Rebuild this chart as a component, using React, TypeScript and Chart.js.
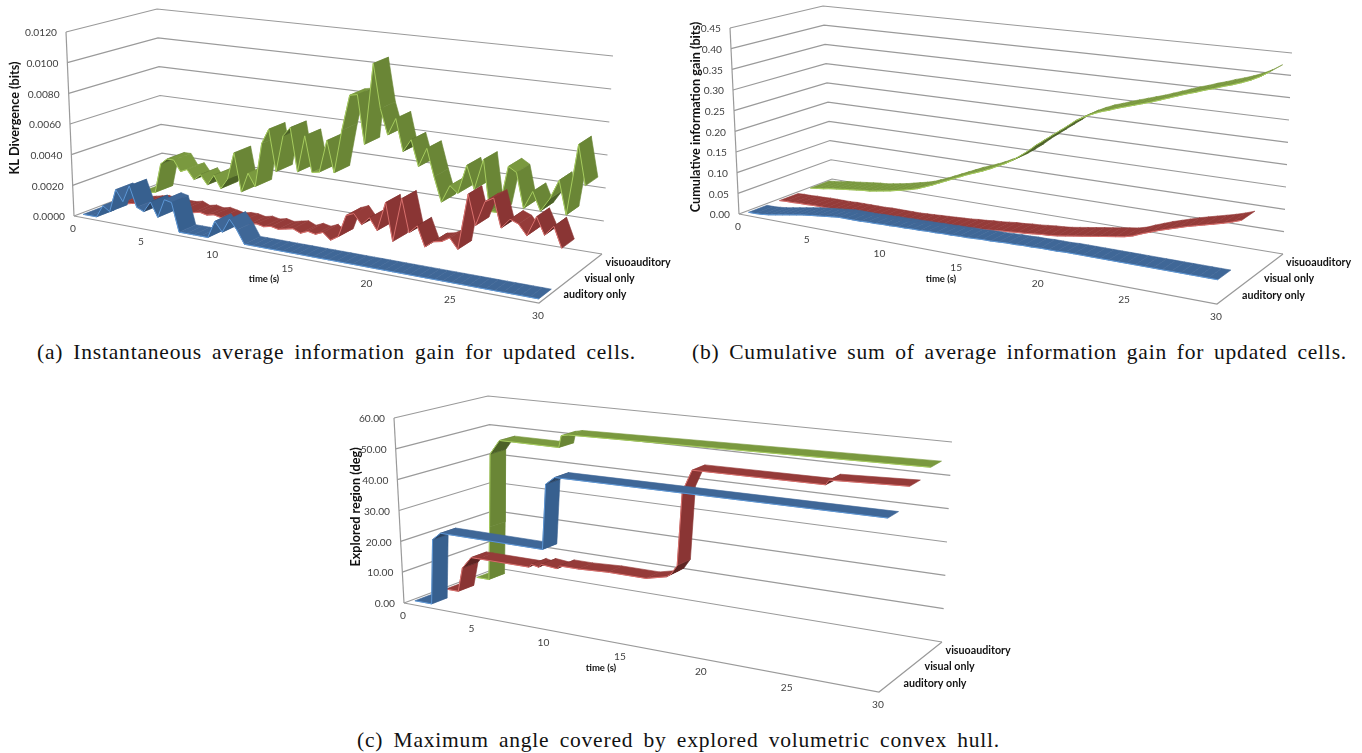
import React, { useEffect, useRef } from "react";
import { Chart, registerables } from "chart.js";

Chart.register(...registerables);

// ---------- data ----------
const seriesNames = ["auditory only", "visual only", "visuoauditory"];
const timeTicks = [0, 5, 10, 15, 20, 25, 30];

const sampleTimes = [
  0.25, 0.75, 1.25, 1.75, 2.25, 2.75, 3.25, 3.75, 4.25, 4.75, 5.25, 5.75, 6.25, 6.75, 7.25,
  7.75, 8.25, 8.75, 9.25, 9.75, 10.25, 10.75, 11.25, 11.75, 12.25, 12.75, 13.25, 13.75, 14.25, 14.75,
  15.25, 15.75, 16.25, 16.75, 17.25, 17.75, 18.25, 18.75, 19.25, 19.75, 20.25, 20.75, 21.25, 21.75, 22.25,
  22.75, 23.25, 23.75, 24.25, 24.75, 25.25, 25.75, 26.25, 26.75, 27.25, 27.75, 28.25, 28.75, 29.25, 29.75,
];

const klTicks = ["0.0000", "0.0020", "0.0040", "0.0060", "0.0080", "0.0100", "0.0120"];
const klAuditory = [
  0, 0, 0, 0.0008, 0.0005, 0.002, 0.0013, 0.0024, 0.0011, 0.0009, 0.0016, 0.0007, 0.0019, 0.0018, 0,
  0, 0, 0, 0, 0.0011, 0.0005, 0.0014, 0.0008, 0, 0, 0, 0, 0, 0, 0,
  0, 0, 0, 0, 0, 0, 0, 0, 0, 0, 0, 0, 0, 0, 0,
  0, 0, 0, 0, 0, 0, 0, 0, 0, 0, 0, 0, 0, 0, 0,
];
const klVisual = [
  0, 0, 0.0001, 0.0002, 0.0003, 0.0004, 0.0005, 0.0004, 0.0005, 0.0004, 0.0004, 0.0005, 0.0003, 0.0004, 0.0003,
  0.0004, 0.0003, 0.0002, 0.0003, 0.0003, 0.0002, 0.0003, 0.0002, 0.0003, 0.0002, 0.0003, 0.0004, 0.0002, 0.0004, 0.0003,
  0.0005, 0.0001, 0.0004, 0.0018, 0.002, 0.0014, 0.0019, 0.0012, 0.003, 0.0007, 0.0034, 0.0014, 0.0019, 0.0007, 0.0011,
  0.0012, 0.0015, 0.0009, 0.0043, 0.0025, 0.004, 0.0043, 0.0026, 0.0032, 0.003, 0.0024, 0.0036, 0.0026, 0.0032, 0.002,
];
const klVisuoauditory = [
  0, 0, 0.0001, 0.0021, 0.0025, 0.0025, 0.0018, 0.002, 0.0014, 0.0018, 0.0012, 0.0019, 0.0011, 0.0018, 0.0036,
  0.0011, 0.0024, 0.0016, 0.0045, 0.0055, 0.0028, 0.0052, 0.0058, 0.003, 0.0054, 0.0031, 0.0032, 0.0053, 0.0033, 0.0061,
  0.0084, 0.0085, 0.0054, 0.0106, 0.0078, 0.0062, 0.0073, 0.0053, 0.0061, 0.0045, 0.0057, 0.004, 0.0025, 0.0036, 0.0032,
  0.005, 0.0036, 0.0055, 0.0024, 0.0024, 0.0053, 0.005, 0.0029, 0.004, 0.0029, 0.0037, 0.0049, 0.0029, 0.0072, 0.0048,
];

const gainTicks = ["0.00", "0.05", "0.10", "0.15", "0.20", "0.25", "0.30", "0.35", "0.40", "0.45"];
const gainAuditory = [
  0, 0, 0.001, 0.003, 0.006, 0.009, 0.012, 0.015, 0.018, 0.02, 0.022, 0.024, 0.026, 0.028, 0.028,
  0.028, 0.028, 0.029, 0.029, 0.03, 0.03, 0.031, 0.031, 0.032, 0.032, 0.033, 0.033, 0.034, 0.034, 0.035,
  0.035, 0.036, 0.037, 0.037, 0.038, 0.039, 0.039, 0.04, 0.04, 0.041, 0.041, 0.041, 0.042, 0.042, 0.042,
  0.042, 0.042, 0.042, 0.042, 0.042, 0.042, 0.042, 0.042, 0.042, 0.042, 0.042, 0.042, 0.042, 0.042, 0.042,
];
const gainVisual = [
  0, 0.001, 0.001, 0.002, 0.002, 0.003, 0.003, 0.003, 0.003, 0.004, 0.004, 0.004, 0.004, 0.004, 0.005,
  0.005, 0.005, 0.005, 0.005, 0.006, 0.007, 0.008, 0.009, 0.01, 0.011, 0.012, 0.014, 0.015, 0.017, 0.018,
  0.02, 0.022, 0.023, 0.025, 0.026, 0.028, 0.03, 0.031, 0.033, 0.036, 0.039, 0.042, 0.045, 0.048, 0.051,
  0.054, 0.057, 0.062, 0.07, 0.077, 0.084, 0.09, 0.096, 0.102, 0.107, 0.112, 0.117, 0.122, 0.128, 0.135,
];
const gainVisuoauditory = [
  0.002, 0.004, 0.006, 0.009, 0.011, 0.013, 0.015, 0.017, 0.019, 0.02, 0.023, 0.026, 0.029, 0.033, 0.037,
  0.041, 0.046, 0.053, 0.06, 0.068, 0.076, 0.084, 0.092, 0.1, 0.107, 0.114, 0.122, 0.131, 0.14, 0.151,
  0.164, 0.178, 0.194, 0.208, 0.222, 0.236, 0.25, 0.265, 0.276, 0.285, 0.293, 0.299, 0.306, 0.312, 0.318,
  0.324, 0.33, 0.337, 0.344, 0.351, 0.358, 0.364, 0.371, 0.377, 0.384, 0.39, 0.397, 0.405, 0.415, 0.428,
];

const angleTicks = ["0.00", "10.00", "20.00", "30.00", "40.00", "50.00", "60.00"];
const angleAuditoryT = [0.25, 1.5, 1.8, 2.4, 9.5, 9.8, 10.4, 29.75];
const angleAuditory = [0, 0, 21, 23.5, 23.5, 44, 46.5, 47.5];
const angleVisualT = [0.25, 1.2, 1.6, 2.3, 2.8, 6.5, 6.7, 7.2, 7.4, 8.5, 8.7, 10, 12, 14.5, 15.8, 16.1, 16.5, 16.8, 17.4, 25.2, 25.4, 29.75];
const angleVisual = [0, 0, 8, 12, 12, 12, 13, 12.5, 13.5, 13, 14, 14, 14.5, 14.5, 16, 17, 20, 43, 50, 50.5, 52, 53];
const angleVisuoT = [0.25, 1.2, 1.45, 1.75, 2.5, 6.8, 7.0, 7.5, 29.75];
const angleVisuo = [0, 0, 18, 43, 48, 48, 52, 52.5, 55];

// ---------- page geometry of each perspective box ----------
type Pt = [number, number];
const boxA = { fl0: [74, 216] as Pt, fl1: [66, 32] as Pt, bl0: [163, 182] as Pt, bl1: [157, 9] as Pt, fr0: [539, 303] as Pt, fr1: [551, 92] as Pt, br0: [602, 254] as Pt, br1: [613, 56] as Pt, k: 1.17, half: 0.1 };
const boxB = { fl0: [739, 214] as Pt, fl1: [730, 28] as Pt, bl0: [832, 179] as Pt, bl1: [823, 6] as Pt, fr0: [1217, 304] as Pt, fr1: [1228, 88] as Pt, br0: [1283, 254] as Pt, br1: [1292, 53] as Pt, k: 1.19, half: 0.1 };
const boxC = { fl0: [404, 603] as Pt, fl1: [394, 418] as Pt, bl0: [497, 568] as Pt, bl1: [488, 396] as Pt, fr0: [879, 692] as Pt, fr1: [890, 477] as Pt, br0: [942, 642] as Pt, br1: [952, 442] as Pt, k: 1.19, half: 0.085 };
type Box = typeof boxA;

const TMAX = 30;
const lerp = (a: number, b: number, s: number) => a + (b - a) * s;
function project(box: Box, t: number, w: number, h: number) {
  const u = t / TMAX;
  const f = u / (box.k - (box.k - 1) * u);
  const at = (i: 0 | 1) => {
    const f0 = lerp(lerp(box.fl0[i], box.fr0[i], f), lerp(box.bl0[i], box.br0[i], f), w);
    const f1 = lerp(lerp(box.fl1[i], box.fr1[i], f), lerp(box.bl1[i], box.br1[i], f), w);
    return lerp(f0, f1, h);
  };
  return { x: at(0), y: at(1) };
}

const palettes = [
  { top: "#3F6797", mid: "#37608F", dark: "#2A4465", edge: "#5D97D6" },
  { top: "#953B39", mid: "#8A3534", dark: "#5E2422", edge: "#D9706D" },
  { top: "#7A993F", mid: "#6A8636", dark: "#4C6227", edge: "#A6CC5E" },
];
const slotCenters = [1 / 6, 1 / 2, 5 / 6];

function gridSets(box: Box, tickCount: number) {
  const sets: any[] = [];
  const line = (data: { x: number; y: number }[]) =>
    sets.push({ data, showLine: true, pointRadius: 0, borderColor: "#9a9a9a", borderWidth: 1.2, fill: false, clip: false });
  for (let i = 0; i < tickCount; i++) {
    const h = i / (tickCount - 1);
    line([project(box, 0, 0, h), project(box, 0, 1, h), project(box, TMAX, 1, h)]);
  }
  line([project(box, 0, 0, 0), project(box, 0, 0, 1)]);
  line([project(box, 0, 0, 0), project(box, TMAX, 0, 0), project(box, TMAX, 1, 0)]);
  return sets;
}

function ribbonSets(box: Box, name: string, slot: number, times: number[], values: number[], maxV: number) {
  const pal = palettes[slot];
  const w0 = slotCenters[slot] - box.half;
  const w1 = slotCenters[slot] + box.half;
  const sets: any[] = [];
  for (let i = 0; i < times.length - 1; i++) {
    const a = project(box, times[i], w0, values[i] / maxV);
    const b = project(box, times[i + 1], w0, values[i + 1] / maxV);
    const c = project(box, times[i + 1], w1, values[i + 1] / maxV);
    const d = project(box, times[i], w1, values[i] / maxV);
    const dx = b.x - a.x;
    const dy = b.y - a.y;
    const cross = dx * (d.y - a.y) - dy * (d.x - a.x);
    let color = pal.top;
    if (cross > 0) color = Math.abs(dy) > 1.6 * Math.abs(dx) ? pal.mid : pal.dark;
    else if (dy > 2 * Math.abs(dx)) color = pal.mid;
    sets.push({
      label: name,
      data: [a, b, c, d, a],
      showLine: true,
      pointRadius: 0,
      fill: "shape",
      backgroundColor: color,
      borderColor: color,
      borderWidth: 0.6,
      clip: false,
    });
  }
  sets.push({
    label: name,
    data: times.map((t, i) => project(box, t, w0, values[i] / maxV)),
    showLine: true,
    pointRadius: 0,
    borderColor: pal.edge,
    borderWidth: 1,
    fill: false,
    clip: false,
  });
  return sets;
}

const labelPlugin = {
  id: "boxLabels",
  afterDraw(chart: any) {
    const o = chart.options.plugins.boxLabels;
    const box: Box = o.box;
    const ctx = chart.ctx;
    const sx = chart.scales.x;
    const sy = chart.scales.y;
    const px = (p: { x: number; y: number }) => ({ x: sx.getPixelForValue(p.x), y: sy.getPixelForValue(p.y) });
    ctx.save();
    ctx.textBaseline = "middle";
    ctx.fillStyle = "#404040";
    ctx.font = "10.2px Lato";
    ctx.textAlign = "right";
    o.ticks.forEach((tick: string, i: number) => {
      const p = px(project(box, 0, 0, i / (o.ticks.length - 1)));
      ctx.fillText(tick, p.x - 9, p.y + 1);
    });
    ctx.textAlign = "center";
    timeTicks.forEach((t) => {
      const p = px(project(box, t, 0, 0));
      ctx.fillText(String(t), p.x - 1, p.y + 13);
    });
    ctx.fillStyle = "#111";
    ctx.font = "bold 10.7px Lato";
    ctx.textAlign = "left";
    seriesNames.forEach((n, i) => {
      const p = px(project(box, TMAX, slotCenters[i], 0));
      ctx.fillText(n, p.x + 14, p.y);
    });
    ctx.textAlign = "center";
    ctx.font = "bold 9.5px Lato";
    const tl = px({ x: o.timeLabel[0], y: o.timeLabel[1] });
    ctx.fillText("time (s)", tl.x, tl.y);
    ctx.font = "bold 12.7px Lato";
    const yl = px({ x: o.yLabel[0], y: o.yLabel[1] });
    ctx.translate(yl.x, yl.y);
    ctx.rotate(-Math.PI / 2);
    ctx.fillText(o.yTitle, 0, 0);
    ctx.restore();
  },
};

function Panel(props: {
  left: number; top: number; width: number; height: number; box: Box; ticks: string[]; yTitle: string;
  timeLabel: number[]; yLabel: number[]; maxV: number; series: [number[], number[]][];
}) {
  const ref = useRef<HTMLCanvasElement>(null);
  useEffect(() => {
    const { left, top, width, height, box, ticks, yTitle, timeLabel, yLabel, maxV, series } = props;
    const back: any[] = [...gridSets(box, ticks.length)];
    for (let slot = 2; slot >= 0; slot--) {
      back.push(...ribbonSets(box, seriesNames[slot], slot, series[slot][0], series[slot][1], maxV));
    }
    const chart = new Chart(ref.current!, {
      type: "scatter",
      data: { datasets: back.reverse() },
      plugins: [labelPlugin],
      options: {
        animation: false,
        responsive: false,
        devicePixelRatio: 1,
        events: [],
        layout: { padding: 0 },
        scales: {
          x: { type: "linear", display: false, min: left, max: left + width },
          y: { type: "linear", display: false, min: top, max: top + height, reverse: true },
        },
        plugins: {
          legend: { display: false },
          title: { display: false },
          tooltip: { enabled: false },
          boxLabels: { box, ticks, yTitle, timeLabel, yLabel },
        } as any,
      },
    });
    return () => chart.destroy();
  }, []);
  return (
    <canvas
      ref={ref}
      width={props.width}
      height={props.height}
      style={{ position: "absolute", left: props.left, top: props.top, width: props.width, height: props.height, display: "block", filter: "blur(0.35px)" }}
    />
  );
}

const captionStyle = (left: number, width: number, top: number): React.CSSProperties => ({
  position: "absolute",
  left,
  top,
  width,
  fontFamily: "'Liberation Serif', serif",
  fontSize: 21.5,
  letterSpacing: 0.8,
  lineHeight: "22px",
  color: "#111",
  whiteSpace: "nowrap",
  textAlign: "justify",
  textAlignLast: "justify",
});

export default function App() {
  return (
    <div style={{ position: "absolute", left: 0, top: 0, width: 1362, height: 753, overflow: "hidden", background: "#fff" }}>
      <Panel left={0} top={0} width={680} height={330} box={boxA} ticks={klTicks} yTitle="KL Divergence (bits)"
        timeLabel={[264, 279]} yLabel={[15, 118]} maxV={0.012}
        series={[[sampleTimes, klAuditory], [sampleTimes, klVisual], [sampleTimes, klVisuoauditory]]} />
      <Panel left={680} top={0} width={682} height={330} box={boxB} ticks={gainTicks} yTitle="Cumulative information gain (bits)"
        timeLabel={[941, 279]} yLabel={[696, 117]} maxV={0.45}
        series={[[sampleTimes, gainAuditory], [sampleTimes, gainVisual], [sampleTimes, gainVisuoauditory]]} />
      <Panel left={340} top={385} width={680} height={335} box={boxC} ticks={angleTicks} yTitle="Explored region (deg)"
        timeLabel={[601, 668]} yLabel={[356, 507]} maxV={60}
        series={[[angleAuditoryT, angleAuditory], [angleVisualT, angleVisual], [angleVisuoT, angleVisuo]]} />
      <div style={captionStyle(37, 599, 341)}>(a) Instantaneous average information gain for updated cells.</div>
      <div style={captionStyle(692, 655, 341)}>(b) Cumulative sum of average information gain for updated cells.</div>
      <div style={captionStyle(357, 643, 729)}>(c) Maximum angle covered by explored volumetric convex hull.</div>
    </div>
  );
}
